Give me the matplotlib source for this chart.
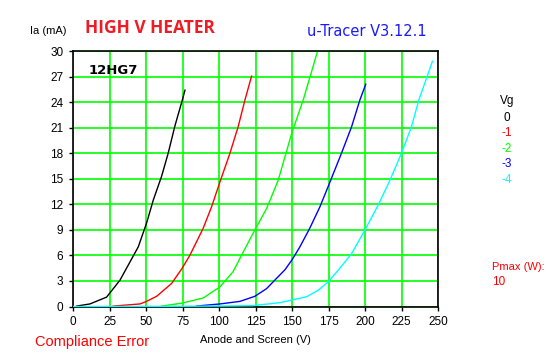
import matplotlib
matplotlib.use("Agg")
import matplotlib.pyplot as plt

# anode+screen voltage (V) and anode current (mA) per grid voltage
va_0 = [2.5, 11.6, 23, 32.2, 44.7, 50.4, 55, 60.7, 65.2, 69.8, 74.8, 76.7]
ia_0 = [0.05, 0.3, 1.1, 3.1, 7.0, 9.8, 12.5, 15.3, 18.0, 21.2, 24.2, 25.4]

va_1 = [27.6, 45.9, 50.4, 57.3, 67.5, 74.8, 80, 89.2, 94.9, 100.6, 107.5, 113.1, 117.7, 122.3]
ia_1 = [0.05, 0.3, 0.6, 1.2, 2.7, 4.5, 6.0, 9.2, 11.7, 14.6, 18.0, 21.1, 24.2, 27.05]

va_2 = [60.7, 74.8, 89.2, 100.6, 109.7, 116.6, 124.6, 132.6, 140.5, 150.1, 157.6, 167.2]
ia_2 = [0.05, 0.4, 1.0, 2.3, 4.1, 6.4, 9.0, 11.5, 14.8, 20.5, 24.2, 29.8]

va_3 = [84.7, 100.6, 114.3, 124.6, 132.6, 137.1, 145.1, 150.1, 155.4, 162.2, 169.1,
        174.8, 183.9, 190.8, 196.4, 200.5]
ia_3 = [0.05, 0.3, 0.6, 1.2, 2.1, 2.9, 4.3, 5.5, 7.0, 9.2, 11.7, 14.1, 18.0, 21.1, 24.2, 26.1]

va_4 = [0, 60, 100, 123, 141.7, 150.1, 160, 167.9, 174.8, 182.8, 190.8, 200, 209, 217,
        225, 231.8, 236.8, 246.2]
ia_4 = [0.0, 0.02, 0.05, 0.1, 0.45, 0.76, 1.15, 1.9, 2.9, 4.5, 6.2, 9.0, 11.9, 14.8,
        18.0, 21.1, 24.2, 28.8]

vg_labels = ["0", "-1", "-2", "-3", "-4"]
colors = ["black", "#ff0000", "#00ff00", "#0000ff", "#00ffff"]
x_ticks = list(range(0, 251, 25))
y_ticks = list(range(0, 31, 3))

plt.rcParams["font.family"] = ["Liberation Sans", "DejaVu Sans"]

W, H = 547, 357
fig = plt.figure(figsize=(W / 100, H / 100), dpi=100)
ax = fig.add_axes([73 / W, 1 - 306.5 / H, (438 - 73) / W, (306.5 - 51) / H])

series = [(va_0, ia_0), (va_1, ia_1), (va_2, ia_2), (va_3, ia_3), (va_4, ia_4)]
for (v, i), c in zip(series, colors):
    ax.plot(v, i, color=c, lw=1.0, zorder=3)

ax.set_xlim(0, 250)
ax.set_ylim(0, 30)
ax.set_xticks(x_ticks)
ax.set_yticks(y_ticks)
ax.grid(True, color="#00ff00", lw=1.2)
ax.set_axisbelow(True)
for s in ax.spines.values():
    s.set_color("black")
    s.set_linewidth(1.2)
ax.tick_params(labelsize=8.5, length=3, width=1, pad=4, direction="out")
ax.set_xlabel("Anode and Screen (V)", fontsize=8, labelpad=5)

fig.text(48 / W, 1 - 31 / H, "Ia (mA)", fontsize=8, ha="center", va="center")
fig.text(85 / W, 1 - 28 / H, "HIGH V HEATER", fontsize=12.5, color="#ee1c24",
         fontweight="bold", family="Open Sans", ha="left", va="center")
fig.text(367 / W, 1 - 31 / H, "u-Tracer V3.12.1", fontsize=10.5, color="#1a1aff",
         family="DejaVu Sans", ha="center", va="center")
ax.text(0.044, 0.925, "12HG7", transform=ax.transAxes, fontsize=9.5, fontweight="bold",
        family="DejaVu Sans", ha="left", va="center")

fig.text(507 / W, 1 - 101 / H, "Vg", fontsize=8.5, ha="center", va="center")
for k, (lab, c) in enumerate(zip(vg_labels, colors)):
    fig.text(507 / W, 1 - (118 + 15.5 * k) / H, lab, fontsize=8.5, color=c,
             ha="center", va="center")

fig.text(492 / W, 1 - 267 / H, "Pmax (W):", fontsize=8, color="#ff0000",
         ha="left", va="center")
fig.text(492 / W, 1 - 282 / H, "10", fontsize=8.5, color="#ff0000",
         ha="left", va="center")
fig.text(35 / W, 1 - 342 / H, "Compliance Error", fontsize=10.5, color="#ff0000",
         ha="left", va="center")

fig.savefig("out.png", dpi=100)
